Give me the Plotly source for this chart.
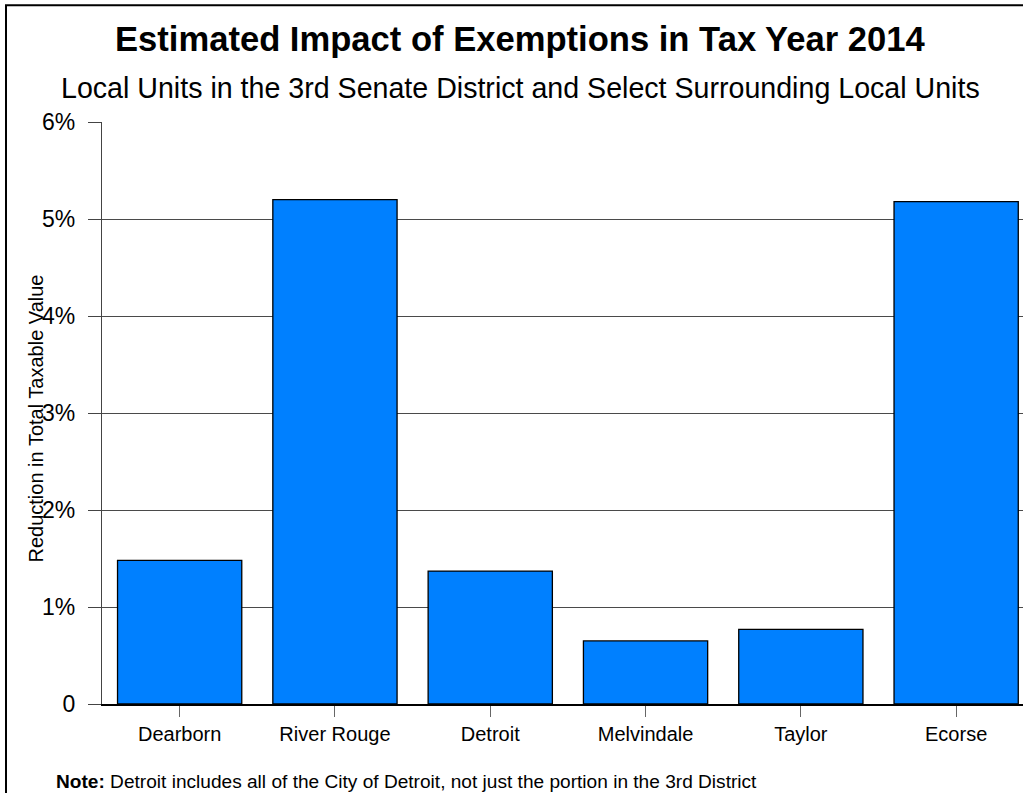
import plotly.graph_objects as go

# Local units and their estimated reduction in total taxable value (percent)
units = ["Dearborn", "River Rouge", "Detroit", "Melvindale", "Taylor", "Ecorse"]
reduction_pct = [1.48, 5.20, 1.37, 0.65, 0.77, 5.18]

# Y axis ticks
y_tickvals = [0, 1, 2, 3, 4, 5, 6]
y_ticktext = ["0", "1%", "2%", "3%", "4%", "5%", "6%"]

title_text = "Estimated Impact of Exemptions in Tax Year 2014"
subtitle_text = "Local Units in the 3rd Senate District and Select Surrounding Local Units"
y_title_text = "Reduction in Total Taxable Value"
note_text = "<b>Note:</b> Detroit includes all of the City of Detroit, not just the portion in the 3rd District"

FONT = "Liberation Sans, Arial, sans-serif"

W, H = 1023, 793
ML, MR, MT, MB = 102, 0, 122, 89
PW = W - ML - MR
PH = H - MT - MB
BAND = 155.3  # pixel width of one category band


def px_x(px):
    return (px - ML) / PW


def px_y(py):
    return (H - MB - py) / PH


fig = go.Figure(
    go.Bar(
        x=units,
        y=reduction_pct,
        marker=dict(color="#0080FF", line=dict(color="#000000", width=1.3)),
        hoverinfo="x+y",
    )
)

fig.update_layout(
    width=W,
    height=H,
    margin=dict(l=ML, r=MR, t=MT, b=MB, pad=0),
    paper_bgcolor="white",
    plot_bgcolor="white",
    bargap=0.2,
    showlegend=False,
    font=dict(family=FONT, color="black"),
    xaxis=dict(
        type="category",
        range=[-0.5, -0.5 + PW / BAND],
        showline=True,
        linecolor="black",
        linewidth=2,
        ticks="outside",
        ticklen=11,
        tickwidth=1.3,
        tickcolor="#666666",
        tickfont=dict(family=FONT, size=20, color="black"),
        showgrid=False,
        zeroline=False,
    ),
    yaxis=dict(
        range=[0, 6],
        tickvals=y_tickvals,
        ticktext=y_ticktext,
        showline=True,
        linecolor="#444444",
        linewidth=1.3,
        ticks="outside",
        ticklen=13,
        tickwidth=1.3,
        tickcolor="#444444",
        tickfont=dict(family=FONT, size=23, color="black"),
        ticklabelstandoff=8,
        showgrid=True,
        gridcolor="#4a4a4a",
        gridwidth=1.4,
        zeroline=False,
    ),
)

# Outer chart frame
fig.add_shape(
    type="rect", xref="paper", yref="paper",
    x0=px_x(6), x1=px_x(1040), y0=px_y(800), y1=px_y(5.3),
    line=dict(color="black", width=2), fillcolor="rgba(0,0,0,0)", layer="above",
)

fig.add_annotation(
    text=f"<b>{title_text}</b>", xref="paper", yref="paper",
    x=px_x(519.5), y=px_y(38.5), xanchor="center", yanchor="middle",
    showarrow=False, font=dict(family=FONT, size=34.6, color="black"),
)
fig.add_annotation(
    text=subtitle_text, xref="paper", yref="paper",
    x=px_x(520), y=px_y(87.5), xanchor="center", yanchor="middle",
    showarrow=False, font=dict(family=FONT, size=28.6, color="black"),
)
fig.add_annotation(
    text=y_title_text, xref="paper", yref="paper",
    x=px_x(35), y=px_y(418.5), xanchor="center", yanchor="middle",
    textangle=-90, showarrow=False, font=dict(family=FONT, size=20, color="black"),
)
fig.add_annotation(
    text=note_text, xref="paper", yref="paper",
    x=px_x(54), y=px_y(781), xanchor="left", yanchor="middle",
    showarrow=False, font=dict(family=FONT, size=19.1, color="black"),
)

fig.write_html("out.html")
